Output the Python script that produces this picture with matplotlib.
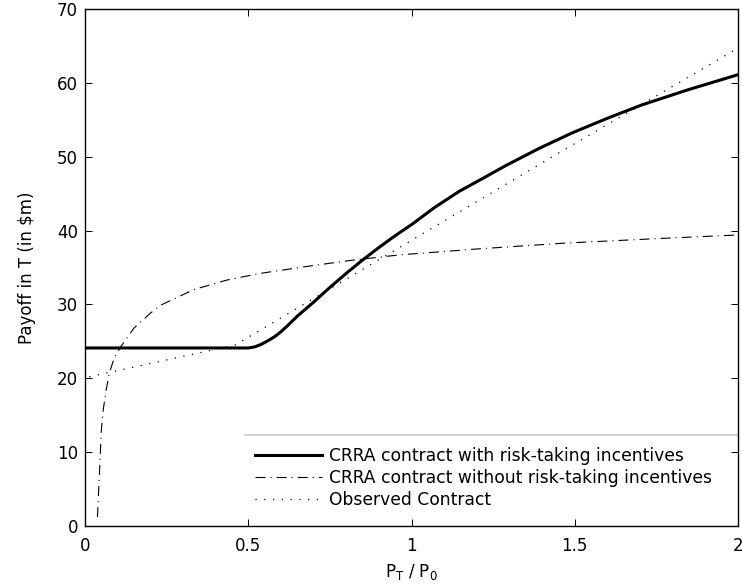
import matplotlib
matplotlib.use('Agg')
import matplotlib.pyplot as plt
from matplotlib.lines import Line2D

plt.rcParams['font.family'] = ['DejaVu Sans']
plt.rcParams['mathtext.default'] = 'regular'

# CRRA contract with risk-taking incentives
x_with = [0.0, 0.1, 0.2, 0.3, 0.4, 0.5, 0.52, 0.54, 0.557, 0.58, 0.6, 0.62, 0.65,
          0.7, 0.75, 0.8, 0.85, 0.9, 0.95, 1.0, 1.07, 1.146, 1.22, 1.289, 1.39,
          1.491, 1.6, 1.705, 1.85, 2.0]
y_with = [24.1, 24.1, 24.1, 24.1, 24.1, 24.1, 24.25, 24.6, 25.0, 25.6, 26.3, 27.1, 28.4,
          30.3, 32.3, 34.2, 36.0, 37.7, 39.3, 40.8, 43.1, 45.3, 47.1, 48.8, 51.1,
          53.2, 55.2, 57.0, 59.1, 61.1]

# CRRA contract without risk-taking incentives
x_without = [0.038, 0.045, 0.05, 0.056, 0.065, 0.075, 0.09, 0.11, 0.15, 0.2, 0.232,
             0.333, 0.435, 0.537, 0.689, 0.821, 0.963, 1.2, 1.47, 1.75, 2.0]
y_without = [1.2, 8.0, 13.0, 15.8, 18.5, 20.8, 22.8, 24.3, 26.8, 28.8, 29.9,
             32.0, 33.3, 34.2, 35.2, 36.0, 36.7, 37.5, 38.3, 38.9, 39.4]

# Observed contract
x_obs = [0.013, 0.46, 0.963, 1.451, 2.0]
y_obs = [20.2, 24.5, 37.7, 50.5, 64.7]

labels = ['CRRA contract with risk-taking incentives',
          'CRRA contract without risk-taking incentives',
          'Observed Contract']

fig = plt.figure(figsize=(7.42, 5.85), dpi=100)
ax = fig.add_axes([0.1146, 0.1009, 0.880, 0.8838])

ax.plot(x_with, y_with, '-', color='black', lw=2.2, label=labels[0])
ax.plot(x_without, y_without, color='black', lw=0.8,
        linestyle=(0, (9, 4.5, 1, 4.5)), label=labels[1])
ax.plot(x_obs, y_obs, color='black', lw=0.9,
        linestyle=(0, (1, 6)), label=labels[2])

ax.set_xlim(0, 2)
ax.set_ylim(0, 70)
ax.set_xticks([0, 0.5, 1, 1.5, 2])
ax.set_xticklabels(['0', '0.5', '1', '1.5', '2'])
ax.set_yticks(range(0, 71, 10))
ax.tick_params(direction='in', top=True, right=True, length=5, width=0.7,
               labelsize=12)
ax.tick_params(axis='x', pad=8)
ax.tick_params(axis='y', pad=5)
for s in ax.spines.values():
    s.set_linewidth(1.0)

ax.set_xlabel(r'P$_T$ / P$_0$', fontsize=12, labelpad=5)
ax.set_ylabel(r'Payoff in T (in \$m)', fontsize=12, labelpad=15)

leg = ax.legend(loc='upper left', bbox_to_anchor=(0.2527, 0.163), frameon=False,
                fontsize=12.3, handlelength=3.9, handletextpad=0.4,
                labelspacing=0.25, borderaxespad=0, borderpad=0.3)
# thin grey edge on top of the legend box, as in the original
ax.add_line(Line2D([0.245, 1.0], [0.176, 0.176], transform=ax.transAxes,
                   color='#c8c8c8', lw=1.2))

fig.savefig('out.png', dpi=100)
